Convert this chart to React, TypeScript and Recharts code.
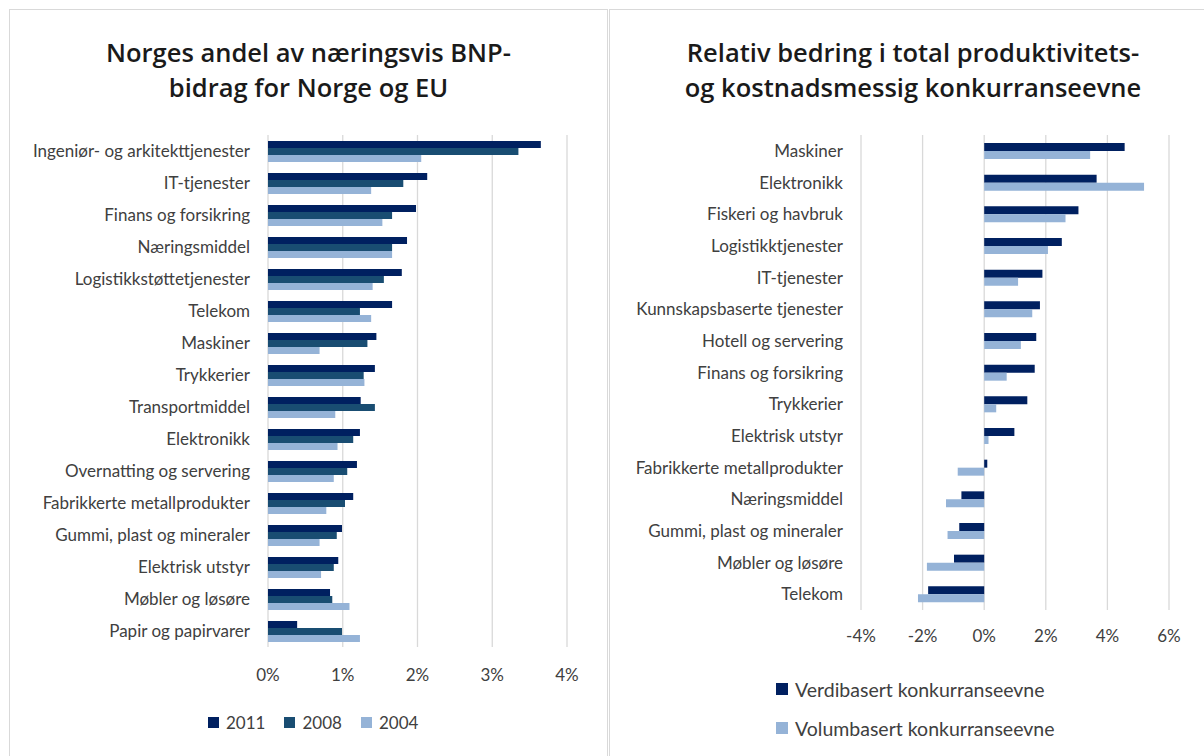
import React from 'react';
import { BarChart, Bar, XAxis, YAxis, CartesianGrid } from 'recharts';

// Left chart: Norges andel av næringsvis BNP-bidrag (prosent)
const sectorsLeft = [
  'Ingeniør- og arkitekttjenester',
  'IT-tjenester',
  'Finans og forsikring',
  'Næringsmiddel',
  'Logistikkstøttetjenester',
  'Telekom',
  'Maskiner',
  'Trykkerier',
  'Transportmiddel',
  'Elektronikk',
  'Overnatting og servering',
  'Fabrikkerte metallprodukter',
  'Gummi, plast og mineraler',
  'Elektrisk utstyr',
  'Møbler og løsøre',
  'Papir og papirvarer',
];
const share2011 = [3.65, 2.13, 1.98, 1.86, 1.79, 1.66, 1.45, 1.43, 1.24, 1.23, 1.19, 1.14, 0.99, 0.94, 0.83, 0.39];
const share2008 = [3.35, 1.81, 1.66, 1.66, 1.55, 1.23, 1.33, 1.28, 1.43, 1.14, 1.06, 1.03, 0.92, 0.88, 0.86, 0.99];
const share2004 = [2.05, 1.38, 1.53, 1.66, 1.40, 1.38, 0.69, 1.29, 0.90, 0.93, 0.88, 0.78, 0.69, 0.71, 1.09, 1.23];
const leftTicks = [0, 1, 2, 3, 4];

// Right chart: relativ bedring i konkurranseevne (prosent)
const sectorsRight = [
  'Maskiner',
  'Elektronikk',
  'Fiskeri og havbruk',
  'Logistikktjenester',
  'IT-tjenester',
  'Kunnskapsbaserte tjenester',
  'Hotell og servering',
  'Finans og forsikring',
  'Trykkerier',
  'Elektrisk utstyr',
  'Fabrikkerte metallprodukter',
  'Næringsmiddel',
  'Gummi, plast og mineraler',
  'Møbler og løsøre',
  'Telekom',
];
const verdibasert = [4.56, 3.65, 3.06, 2.52, 1.89, 1.81, 1.69, 1.64, 1.40, 0.98, 0.10, -0.74, -0.81, -0.98, -1.82];
const volumbasert = [3.44, 5.19, 2.64, 2.07, 1.10, 1.56, 1.19, 0.73, 0.39, 0.14, -0.86, -1.24, -1.19, -1.86, -2.15];
const rightTicks = [-4, -2, 0, 2, 4, 6];

const leftSeries = [
  { key: 'y2011', name: '2011', color: '#002060' },
  { key: 'y2008', name: '2008', color: '#194D72' },
  { key: 'y2004', name: '2004', color: '#95B3D7' },
];
const rightSeries = [
  { key: 'verdi', name: 'Verdibasert konkurranseevne', color: '#002060' },
  { key: 'volum', name: 'Volumbasert konkurranseevne', color: '#95B3D7' },
];

const leftData = sectorsLeft.map((name, i) => ({
  name,
  y2011: share2011[i],
  y2008: share2008[i],
  y2004: share2004[i],
}));
const rightData = sectorsRight.map((name, i) => ({
  name,
  verdi: verdibasert[i],
  volum: volumbasert[i],
}));

const FONT = 'Lato, "Open Sans", sans-serif';
const GRID = '#D9D9D9';
const TEXT = '#404040';

const titleStyle: React.CSSProperties = {
  position: 'absolute',
  top: 25,
  left: 0,
  right: 0,
  textAlign: 'center',
  fontFamily: '"Open Sans", sans-serif',
  fontSize: 25.5,
  fontWeight: 600,
  lineHeight: '35px',
  color: '#1a1a1a',
};

const pct = (v: number) => `${v}%`;

function Swatch({ color, size = 11 }: { color: string; size?: number }) {
  return <span style={{ display: 'inline-block', width: size, height: size, background: color, marginRight: 7 }} />;
}

export default function App() {
  return (
    <div
      style={{
        position: 'absolute',
        left: 0,
        top: 0,
        width: 1204,
        height: 756,
        overflow: 'hidden',
        background: '#fff',
        fontFamily: FONT,
      }}
    >
      {/* Left panel */}
      <div
        style={{
          position: 'absolute',
          left: 9,
          top: 9,
          width: 597,
          height: 760,
          border: `1px solid ${GRID}`,
        }}
      >
        <div style={titleStyle}>
          Norges andel av næringsvis BNP-
          <br />
          bidrag for Norge og EU
        </div>
      </div>
      <div style={{ position: 'absolute', left: 0, top: 0 }}>
        <BarChart
          width={600}
          height={687}
          data={leftData}
          layout="vertical"
          margin={{ top: 135, right: 33, left: 0, bottom: 0 }}
          barCategoryGap={6}
          barGap={0}
          style={{ fontFamily: FONT }}
        >
          <CartesianGrid horizontal={false} stroke={GRID} strokeWidth={1.3} />
          <XAxis
            type="number"
            domain={[0, 4]}
            ticks={leftTicks}
            tickFormatter={pct}
            axisLine={false}
            tickLine={false}
            tickSize={0}
            tickMargin={22}
            height={40}
            tick={{ fill: TEXT, fontSize: 17 }}
          />
          <YAxis
            type="category"
            dataKey="name"
            width={268}
            axisLine={false}
            tickLine={false}
            tickSize={0}
            tickMargin={18}
            interval={0}
            tick={{ fill: TEXT, fontSize: 17 }}
          />
          {leftSeries.map((s) => (
            <Bar key={s.key} dataKey={s.key} name={s.name} fill={s.color} isAnimationActive={false} />
          ))}
        </BarChart>
      </div>
      <div
        style={{
          position: 'absolute',
          left: 208,
          top: 712,
          display: 'flex',
          alignItems: 'center',
          fontSize: 17,
          color: TEXT,
        }}
      >
        {leftSeries.map((s) => (
          <span key={s.key} style={{ display: 'flex', alignItems: 'center', marginRight: 19 }}>
            <Swatch color={s.color} />
            {s.name}
          </span>
        ))}
      </div>

      {/* Right panel */}
      <div
        style={{
          position: 'absolute',
          left: 609,
          top: 9,
          width: 606,
          height: 760,
          border: `1px solid ${GRID}`,
        }}
      >
        <div style={titleStyle}>
          Relativ bedring i total produktivitets-
          <br />
          og kostnadsmessig konkurranseevne
        </div>
      </div>
      <div style={{ position: 'absolute', left: 610, top: 0 }}>
        <BarChart
          width={594}
          height={650}
          data={rightData}
          layout="vertical"
          margin={{ top: 135, right: 35, left: 0, bottom: 0 }}
          barCategoryGap={8}
          barGap={0}
          style={{ fontFamily: FONT }}
        >
          <CartesianGrid horizontal={false} stroke={GRID} strokeWidth={1.3} />
          <XAxis
            type="number"
            domain={[-4, 6]}
            ticks={rightTicks}
            tickFormatter={pct}
            axisLine={false}
            tickLine={false}
            tickSize={0}
            tickMargin={20}
            height={40}
            tick={{ fill: TEXT, fontSize: 17 }}
          />
          <YAxis
            type="category"
            dataKey="name"
            width={251}
            axisLine={false}
            tickLine={false}
            tickSize={0}
            tickMargin={18}
            interval={0}
            tick={{ fill: TEXT, fontSize: 17 }}
          />
          {rightSeries.map((s) => (
            <Bar key={s.key} dataKey={s.key} name={s.name} fill={s.color} isAnimationActive={false} />
          ))}
        </BarChart>
      </div>
      <div style={{ position: 'absolute', left: 776, top: 676, fontSize: 19.5, color: TEXT }}>
        {rightSeries.map((s) => (
          <div key={s.key} style={{ display: 'flex', alignItems: 'center', height: 26, marginBottom: 13 }}>
            <Swatch color={s.color} size={12} />
            {s.name}
          </div>
        ))}
      </div>
    </div>
  );
}
